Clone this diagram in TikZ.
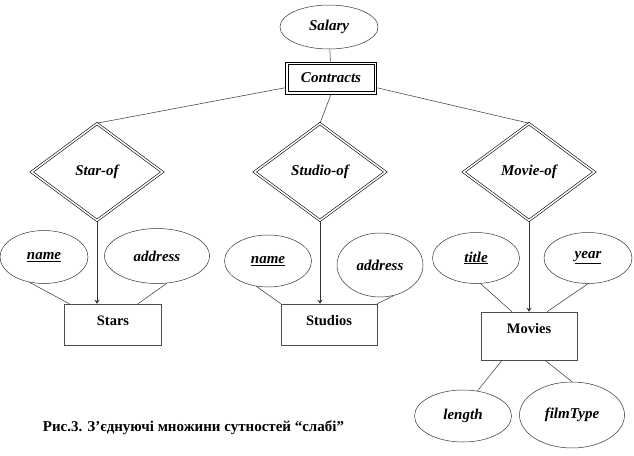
\documentclass[tikz,border=0pt]{standalone}
\usepackage{fontspec}
\setmainfont{Liberation Serif}
\usetikzlibrary{shapes.geometric}
\usetikzlibrary{arrows.meta}
\begin{document}
\begin{tikzpicture}[x=1pt,y=-1pt,line width=0.5pt,
attr/.style={ellipse,draw=black!80,inner sep=0pt,font=\fontsize{15}{18}\selectfont\bfseries\itshape},
ent/.style={rectangle,draw=black!70,inner xsep=2pt,inner ysep=8pt,text height=13pt,text depth=12pt,minimum width=96pt,font=\fontsize{14.5}{17}\selectfont\bfseries},
rel/.style={diamond,draw,line width=0.6pt,double,double distance=1.5pt,inner sep=0pt,minimum width=131pt,minimum height=97pt,font=\fontsize{15}{18}\selectfont\bfseries\itshape},
ln/.style={draw=black!80},
isa/.style={draw=black!80,-{Stealth[length=4pt,width=5pt]}}]
\useasboundingbox (0,0) rectangle (634,455);
% top
\node (sal) at (329,27) [attr,minimum width=98pt,minimum height=44pt] {Salary};
\node (con) at (331,78) [rectangle,draw,line width=0.6pt,minimum width=91pt,minimum height=32pt,font=\fontsize{15}{18}\selectfont\bfseries\itshape] {Contracts};
\draw[line width=0.6pt] ([shift={(3pt,3pt)}]con.south west) rectangle ([shift={(-3pt,-3pt)}]con.north east);
\draw[ln] (sal) -- (con);
% relationships
\node (r1) at (97,172) [rel] {Star-of};
\node (r2) at (320,172) [rel] {Studio-of};
\node (r3) at (529,172) [rel] {Movie-of};
\draw[ln] (con.192) -- (r1.north);
\draw[ln] (con.south) -- (r2.north);
\draw[ln] (con.-12) -- (r3.north);
% Stars
\node (e1) at (113,324.5) [ent,minimum width=97pt] {Stars};
\node (n1) at (44,257) [attr,minimum width=88pt,minimum height=53pt] {\underline{name}};
\node (a1) at (157,256) [attr,minimum width=105pt,minimum height=55pt] {address};
\draw[ln] (n1.240) -- ([xshift=5pt]e1.north west);
\draw[ln] (a1.290) -- ([xshift=25pt]e1.north);
\draw[isa] (r1.south) -- (r1.south |- e1.north);
% Studios
\node (e2) at (329,324.5) [ent] {Studios};
\node (n2) at (268,261) [attr,minimum width=87pt,minimum height=52pt] {\underline{name}};
\node (a2) at (380,265) [attr,minimum width=86pt,minimum height=64pt] {address};
\draw[ln] (n2.245) -- (e2.north west);
\draw[ln] (a2.295) -- (e2.north east);
\draw[isa] (r2.south) -- (r2.south |- e2.north);
% Movies
\node (e3) at (529,336) [ent,text depth=19pt] {Movies};
\node (t3) at (476,258) [attr,minimum width=87pt,minimum height=51pt] {\underline{title}};
\node (y3) at (588,258) [attr,minimum width=88pt,minimum height=51pt] {\underline{year}};
\node (l3) at (463,416) [attr,minimum width=97pt,minimum height=52pt] {length};
\node (f3) at (572,415) [attr,minimum width=105pt,minimum height=66pt] {filmType};
\draw[ln] (t3.280) -- ([xshift=-17pt]e3.north);
\draw[ln] (y3.south) -- ([xshift=18pt]e3.north);
\draw[isa] (r3.south) -- (e3.north);
\draw[ln] ([xshift=-27pt]e3.south) -- (l3.60);
\draw[ln] ([xshift=16pt]e3.south) -- (f3.north);
% caption
\node (cap) at (193.5,428) [font=\fontsize{15}{18}\selectfont\bfseries] {Рис.3. З’єднуючі множини сутностей “слабі”};
\end{tikzpicture}
\end{document}
